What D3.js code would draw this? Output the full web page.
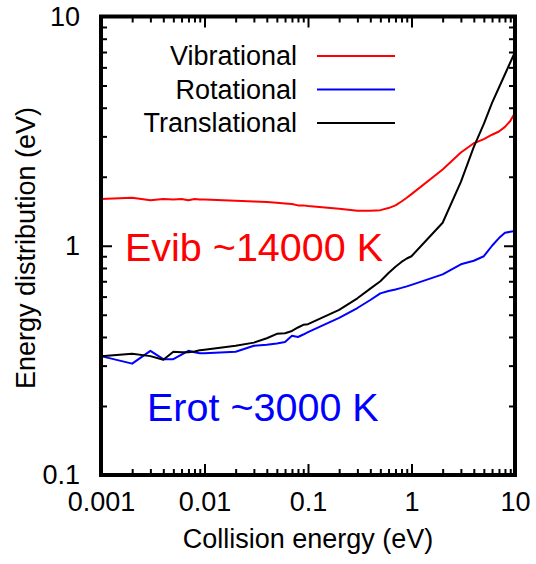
<!DOCTYPE html>
<html>
<head>
<meta charset="utf-8">
<script src="https://cdn.jsdelivr.net/npm/d3@7"></script>
<style>
  body { margin: 0; background: #fff; }
  svg text { font-family: "Liberation Sans", Arial, Helvetica, sans-serif; }
</style>
</head>
<body>
<div class="chart"></div>
<script>
// collision energy grid (eV)
var energy = [0.001, 0.002, 0.003, 0.004, 0.005, 0.006, 0.007, 0.008, 0.009,
  0.01, 0.02, 0.03, 0.04, 0.05, 0.06, 0.07, 0.08, 0.09,
  0.1, 0.2, 0.3, 0.4, 0.5, 0.6, 0.7, 0.8, 0.9,
  1, 2, 3, 4, 5, 6, 7, 8, 9, 10];

var vibrational = [1.60, 1.62, 1.58, 1.60, 1.59, 1.60, 1.58, 1.60, 1.59,
  1.59, 1.57, 1.56, 1.55, 1.54, 1.53, 1.52, 1.50, 1.50,
  1.49, 1.45, 1.42, 1.42, 1.43, 1.46, 1.50, 1.56, 1.62,
  1.68, 2.15, 2.55, 2.80, 2.92, 3.05, 3.15, 3.30, 3.50, 3.80];

var rotational = [0.330, 0.306, 0.348, 0.320, 0.320, 0.335, 0.348, 0.343, 0.340,
  0.340, 0.345, 0.366, 0.370, 0.375, 0.380, 0.405, 0.400, 0.410,
  0.420, 0.485, 0.535, 0.580, 0.620, 0.635, 0.645, 0.655, 0.665,
  0.675, 0.750, 0.830, 0.860, 0.900, 1.00, 1.08, 1.14, 1.15, 1.16];

var translational = [0.330, 0.338, 0.330, 0.318, 0.345, 0.343, 0.343, 0.346, 0.350,
  0.352, 0.366, 0.378, 0.395, 0.413, 0.415, 0.425, 0.440, 0.452,
  0.455, 0.525, 0.590, 0.650, 0.700, 0.760, 0.810, 0.850, 0.880,
  0.900, 1.26, 1.90, 2.70, 3.40, 4.20, 4.90, 5.60, 6.30, 7.00];

var seriesNames = ["Vibrational", "Rotational", "Translational"];
var seriesColors = ["#ff0000", "#0000ff", "#000000"];
var xTickValues = [0.001, 0.01, 0.1, 1, 10];
var xTickLabels = ["0.001", "0.01", "0.1", "1", "10"];
var yTickValues = [0.1, 1, 10];
var yTickLabels = ["0.1", "1", "10"];

var width = 536, height = 564;
var pLeft = 101, pRight = 515, pTop = 16.5, pBottom = 475;

var svg = d3.select(".chart").append("svg")
  .attr("width", width)
  .attr("height", height);

var x = d3.scaleLog().domain([0.001, 10]).range([pLeft, pRight]);
var y = d3.scaleLog().domain([0.1, 10]).range([pBottom, pTop]);

// minor ticks 2..9 in each decade
function minors(lo, hi) {
  var out = [];
  for (var d = lo; d < hi * 0.999; d *= 10) {
    for (var k = 2; k <= 9; k++) out.push(d * k);
  }
  return out;
}
var xMinor = minors(0.001, 10), yMinor = minors(0.1, 10);

function styleAxis(g) {
  g.select(".domain").remove();
  g.selectAll("line").attr("stroke", "#000").attr("stroke-width", 2);
  g.selectAll("text").attr("font-size", 27).attr("fill", "#000");
}

// bottom
svg.append("g").attr("transform", "translate(0," + pBottom + ")")
  .call(d3.axisBottom(x).tickValues(xMinor).tickSize(-6).tickFormat(""))
  .call(styleAxis);
svg.append("g").attr("transform", "translate(0," + pBottom + ")")
  .call(d3.axisBottom(x).tickValues(xTickValues).tickSize(-11).tickPadding(17)
    .tickFormat(function(d, i) { return xTickLabels[i]; }))
  .call(styleAxis);
// top mirror
svg.append("g").attr("transform", "translate(0," + pTop + ")")
  .call(d3.axisTop(x).tickValues(xMinor).tickSize(-6).tickFormat(""))
  .call(styleAxis);
svg.append("g").attr("transform", "translate(0," + pTop + ")")
  .call(d3.axisTop(x).tickValues(xTickValues).tickSize(-11).tickFormat(""))
  .call(styleAxis);
// left
svg.append("g").attr("transform", "translate(" + pLeft + ",0)")
  .call(d3.axisLeft(y).tickValues(yMinor).tickSize(-6).tickFormat(""))
  .call(styleAxis);
svg.append("g").attr("transform", "translate(" + pLeft + ",0)")
  .call(d3.axisLeft(y).tickValues(yTickValues).tickSize(-11).tickPadding(21)
    .tickFormat(function(d, i) { return yTickLabels[i]; }))
  .call(styleAxis);
// right mirror
svg.append("g").attr("transform", "translate(" + pRight + ",0)")
  .call(d3.axisRight(y).tickValues(yMinor).tickSize(-6).tickFormat(""))
  .call(styleAxis);
svg.append("g").attr("transform", "translate(" + pRight + ",0)")
  .call(d3.axisRight(y).tickValues(yTickValues).tickSize(-11).tickFormat(""))
  .call(styleAxis);

// curves
var line = d3.line()
  .x(function(d) { return x(d[0]); })
  .y(function(d) { return y(d[1]); });

[vibrational, rotational, translational].forEach(function(vals, i) {
  svg.append("path")
    .datum(energy.map(function(e, j) { return [e, vals[j]]; }))
    .attr("fill", "none")
    .attr("stroke", seriesColors[i])
    .attr("stroke-width", 2)
    .attr("stroke-linejoin", "round")
    .attr("d", line);
});

// frame
svg.append("rect")
  .attr("x", pLeft).attr("y", pTop)
  .attr("width", pRight - pLeft).attr("height", pBottom - pTop)
  .attr("fill", "none").attr("stroke", "#000").attr("stroke-width", 4);

// legend
var legendY = [56, 89.5, 123];
seriesNames.forEach(function(name, i) {
  svg.append("text")
    .attr("x", 297).attr("y", legendY[i]).attr("dy", "0.35em")
    .attr("text-anchor", "end").attr("font-size", 27)
    .text(name);
  svg.append("line")
    .attr("x1", 317).attr("x2", 395)
    .attr("y1", legendY[i]).attr("y2", legendY[i])
    .attr("stroke", seriesColors[i]).attr("stroke-width", 2);
});

// annotations
svg.append("text").attr("x", 125).attr("y", 261)
  .attr("font-size", 39.5).attr("fill", "#ff0000")
  .text("Evib ~14000 K");
svg.append("text").attr("x", 147).attr("y", 421)
  .attr("font-size", 39.5).attr("fill", "#0000ff")
  .text("Erot ~3000 K");

// axis titles
svg.append("text")
  .attr("x", (pLeft + pRight) / 2).attr("y", 548)
  .attr("text-anchor", "middle").attr("font-size", 27)
  .text("Collision energy (eV)");
svg.append("text")
  .attr("transform", "translate(35," + 248 + ") rotate(-90)")
  .attr("text-anchor", "middle").attr("font-size", 27)
  .text("Energy distribution (eV)");
</script>
</body>
</html>
